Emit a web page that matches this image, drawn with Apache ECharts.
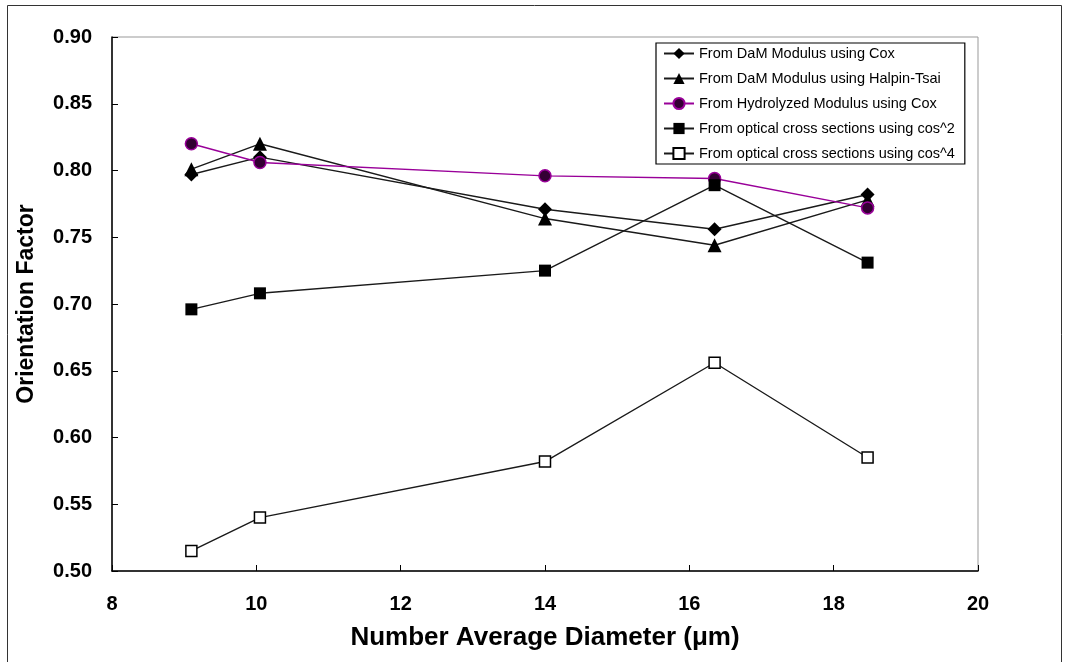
<!DOCTYPE html>
<html>
<head>
<meta charset="utf-8">
<script src="https://cdn.jsdelivr.net/npm/echarts@6/dist/echarts.min.js"></script>
<style>
html,body{margin:0;padding:0;background:#fff;}
#chart{width:1068px;height:662px;}
</style>
</head>
<body>
<div id="chart"></div>
<script>
const diameters = [9.1, 10.05, 14.0, 16.35, 18.47];
const damCox = [0.797, 0.810, 0.771, 0.756, 0.782];
const damHalpinTsai = [0.801, 0.820, 0.764, 0.744, 0.778];
const hydrolyzedCox = [0.820, 0.806, 0.796, 0.794, 0.772];
const opticalCos2 = [0.696, 0.708, 0.725, 0.789, 0.731];
const opticalCos4 = [0.515, 0.540, 0.582, 0.656, 0.585];
const seriesNames = [
  'From DaM Modulus using Cox',
  'From DaM Modulus using Halpin-Tsai',
  'From Hydrolyzed Modulus using Cox',
  'From optical cross sections using cos^2',
  'From optical cross sections using cos^4'
];
const yTicks = [0.50, 0.55, 0.60, 0.65, 0.70, 0.75, 0.80, 0.85, 0.90];
const xTicks = [8, 10, 12, 14, 16, 18, 20];

function pairs(ys){ return diameters.map((x,i)=>[x, ys[i]]); }

const chart = echarts.init(document.getElementById('chart'));
const FONT = "'Liberation Sans',Arial,sans-serif";
const lineBlack = {color:'#1a1a1a', width:1.4};

chart.setOption({
  animation:false,
  backgroundColor:'#fff',
  graphic:[{type:'rect', shape:{x:7.5,y:5.5,width:1054,height:680}, style:{fill:'none', stroke:'#333', lineWidth:1}, silent:true}],
  grid:{left:112, top:37, width:866, height:534, show:true, borderColor:'#999', borderWidth:1, backgroundColor:'#fff'},
  legend:{
    orient:'vertical', left:656, top:43,
    backgroundColor:'#fff', borderColor:'#000', borderWidth:1.2,
    padding:[3,10,3,7], itemGap:10, itemWidth:30, itemHeight:14,
    textStyle:{fontFamily:FONT, fontSize:14.5, color:'#000'},
    data:seriesNames
  },
  xAxis:{
    type:'value', min:xTicks[0], max:xTicks[xTicks.length-1], interval:2,
    name:'Number Average Diameter (μm)', nameLocation:'middle', nameGap:54,
    nameTextStyle:{fontFamily:FONT, fontWeight:'bold', fontSize:26, color:'#000'},
    axisLine:{show:true, lineStyle:{color:'#000', width:1.5}},
    axisTick:{show:true, inside:true, length:6, lineStyle:{color:'#000'}},
    axisLabel:{fontFamily:FONT, fontWeight:'bold', fontSize:20, color:'#000', margin:23},
    splitLine:{show:false}
  },
  yAxis:{
    type:'value', min:yTicks[0], max:yTicks[yTicks.length-1], interval:0.05,
    name:'Orientation Factor', nameLocation:'middle', nameGap:74, nameRotate:90,
    nameTextStyle:{fontFamily:FONT, fontWeight:'bold', fontSize:23, color:'#000'},
    axisLine:{show:true, lineStyle:{color:'#000', width:1.5}},
    axisTick:{show:true, inside:true, length:6, lineStyle:{color:'#000'}},
    axisLabel:{fontFamily:FONT, fontWeight:'bold', fontSize:20, color:'#000', margin:20, formatter:v=>v.toFixed(2)},
    splitLine:{show:false}
  },
  series:[
    {name:seriesNames[0], type:'line', data:pairs(damCox), symbol:'diamond', symbolSize:14,
     lineStyle:lineBlack, itemStyle:{color:'#000'}},
    {name:seriesNames[1], type:'line', data:pairs(damHalpinTsai), symbol:'triangle', symbolSize:14,
     lineStyle:lineBlack, itemStyle:{color:'#000'}},
    {name:seriesNames[2], type:'line', data:pairs(hydrolyzedCox), symbol:'circle', symbolSize:12,
     lineStyle:{color:'#990099', width:1.4}, itemStyle:{color:'#330033', borderColor:'#990099', borderWidth:1.5}},
    {name:seriesNames[3], type:'line', data:pairs(opticalCos2), symbol:'rect', symbolSize:12,
     lineStyle:lineBlack, itemStyle:{color:'#000'}},
    {name:seriesNames[4], type:'line', data:pairs(opticalCos4), symbol:'rect', symbolSize:11,
     lineStyle:lineBlack, itemStyle:{color:'#fff', borderColor:'#000', borderWidth:1.5}}
  ]
});
</script>
</body>
</html>
